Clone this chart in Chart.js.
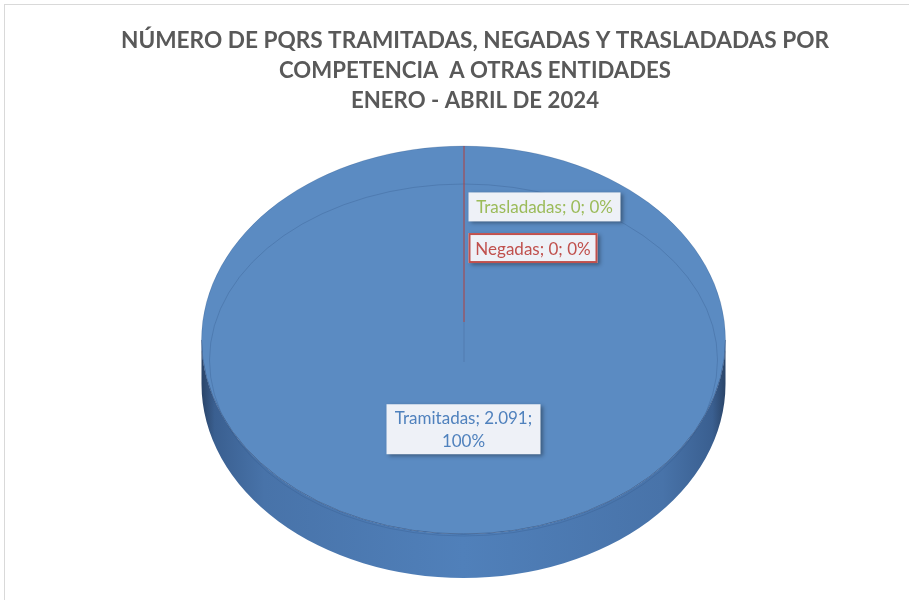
<!DOCTYPE html>
<html>
<head>
<meta charset="utf-8">
<script src="https://cdn.jsdelivr.net/npm/chart.js@4"></script>
<style>
  html, body { margin: 0; padding: 0; background: #ffffff; }
  #wrap { width: 909px; height: 600px; position: relative; }
</style>
</head>
<body>
<div id="wrap"><canvas id="c" width="909" height="600"></canvas></div>
<script>
// ---- data ----
const categories = ['Tramitadas', 'Negadas', 'Trasladadas'];
const values = [2091, 0, 0];
const valueTexts = ['2.091', '0', '0'];
const percentTexts = ['100%', '0%', '0%'];
const titleLines = [
  'NÚMERO DE PQRS TRAMITADAS, NEGADAS Y TRASLADADAS POR',
  'COMPETENCIA  A OTRAS ENTIDADES',
  'ENERO - ABRIL DE 2024'
];
const sliceColors = ['#5b8bc2', '#c0504d', '#9bbb59'];
const labelColors = ['#4f81bd', '#c0504d', '#9bbb59'];

// ---- 3D-look geometry (styling) ----
const X_STRETCH = 262 / 194;   // ellipse horizontal stretch
const DEPTH = 44;              // side thickness

function pieGeom(chart) {
  const el = chart.getDatasetMeta(0).data[0];
  const cx = el.x, cy = el.y, ry = el.outerRadius, rx = ry * X_STRETCH;
  return { cx, cy, rx, ry };
}

const pie3d = {
  id: 'pie3d',
  beforeDatasetsDraw(chart) {
    const ctx = chart.ctx;
    const { cx, cy, rx, ry } = pieGeom(chart);
    // side wall
    ctx.save();
    const g = ctx.createLinearGradient(cx - rx, 0, cx + rx, 0);
    g.addColorStop(0, '#2a4468');
    g.addColorStop(0.025, '#3a5f90');
    g.addColorStop(0.12, '#4873a9');
    g.addColorStop(0.5, '#5080ba');
    g.addColorStop(0.88, '#4873a9');
    g.addColorStop(0.975, '#3a5f90');
    g.addColorStop(1, '#2a4468');
    ctx.beginPath();
    ctx.moveTo(cx + rx, cy);
    ctx.lineTo(cx + rx, cy + DEPTH);
    ctx.ellipse(cx, cy + DEPTH, rx, ry, 0, 0, Math.PI, false);
    ctx.lineTo(cx - rx, cy);
    ctx.ellipse(cx, cy, rx, ry, 0, Math.PI, 0, true);
    ctx.closePath();
    ctx.fillStyle = g;
    ctx.fill();
    ctx.restore();
    // stretch the library's round pie into an ellipse
    ctx.save();
    ctx.translate(cx, cy);
    ctx.scale(X_STRETCH, 1);
    ctx.translate(-cx, -cy);
  },
  afterDatasetsDraw(chart) {
    const ctx = chart.ctx;
    ctx.restore();
    const { cx, cy, rx, ry } = pieGeom(chart);
    ctx.save();
    // top face rim (visible mainly at the front)
    ctx.beginPath();
    ctx.ellipse(cx, cy, rx, ry, 0, 0, Math.PI);
    ctx.strokeStyle = 'rgba(40,70,115,0.55)';
    ctx.lineWidth = 1;
    ctx.stroke();
    ctx.beginPath();
    ctx.ellipse(cx, cy, rx, ry, 0, Math.PI, Math.PI * 2);
    ctx.strokeStyle = 'rgba(40,70,115,0.18)';
    ctx.stroke();
    // faint inner perspective rim
    ctx.beginPath();
    ctx.ellipse(cx, cy + 20, rx - 8, ry - 18, 0, 0, Math.PI * 2);
    ctx.strokeStyle = 'rgba(50,85,135,0.3)';
    ctx.stroke();
    // zero-slice boundary line
    ctx.beginPath();
    ctx.moveTo(cx + 0.5, cy - ry);
    ctx.lineTo(cx + 0.5, cy - 18);
    ctx.strokeStyle = '#b0413e';
    ctx.stroke();
    ctx.beginPath();
    ctx.moveTo(cx + 0.5, cy - 18);
    ctx.lineTo(cx + 0.5, cy + 22);
    ctx.strokeStyle = 'rgba(70,105,155,0.45)';
    ctx.stroke();
    ctx.restore();
  },
  afterDraw(chart) {
    const ctx = chart.ctx;
    const { cx, cy, rx, ry } = pieGeom(chart);
    const meta = chart.getDatasetMeta(0);

    // outer frame
    ctx.save();
    ctx.strokeStyle = '#d9d9d9';
    ctx.lineWidth = 1;
    ctx.strokeRect(4.5, 4.5, 1000, 1000);

    // title
    ctx.fillStyle = '#595959';
    ctx.font = 'bold 23px Lato';
    ctx.textAlign = 'center';
    ctx.textBaseline = 'middle';
    const tx = 475;
    const tys = [41, 71, 101];
    const maxW = [708, 392, 248];
    titleLines.forEach((t, i) => ctx.fillText(t, tx, tys[i], maxW[i]));

    // data labels
    ctx.font = '17px Lato';
    function box(x, y, w, h, border) {
      ctx.save();
      ctx.shadowColor = 'rgba(0,0,0,0.35)';
      ctx.shadowBlur = 4;
      ctx.shadowOffsetX = 2;
      ctx.shadowOffsetY = 2;
      ctx.fillStyle = '#eef1f7';
      ctx.fillRect(x, y, w, h);
      ctx.restore();
      if (border) {
        ctx.save();
        ctx.strokeStyle = border;
        ctx.lineWidth = 2;
        ctx.strokeRect(x + 1, y + 1, w - 2, h - 2);
        ctx.restore();
      }
    }
    meta.data.forEach((el, i) => {
      if (values[i] > 0) {
        const mid = (el.startAngle + el.endAngle) / 2;
        const lx = cx + Math.cos(mid) * rx * 0.46;
        const ly = cy + Math.sin(mid) * ry * 0.46;
        const w = 154, h = 50;
        box(lx - w / 2, ly - h / 2, w, h, null);
        ctx.fillStyle = labelColors[i];
        ctx.textAlign = 'center';
        ctx.fillText(categories[i] + '; ' + valueTexts[i] + ';', lx, ly - 11);
        ctx.fillText(percentTexts[i], lx, ly + 12);
      } else {
        const frac = i === 2 ? 0.686 : 0.474;
        const lx = el.x + 5;
        const ly = cy - ry * frac;
        const text = categories[i] + '; ' + valueTexts[i] + '; ' + percentTexts[i];
        const w = (i === 2) ? 152 : 129;
        const h = (i === 2) ? 29 : 30;
        box(lx, ly - h / 2, w, h, i === 1 ? '#c0504d' : null);
        ctx.fillStyle = labelColors[i];
        ctx.textAlign = 'center';
        ctx.fillText(text, lx + w / 2, ly + 1, w - 8);
      }
    });
    ctx.restore();
  }
};

new Chart(document.getElementById('c'), {
  type: 'pie',
  data: {
    labels: categories,
    datasets: [{
      data: values,
      backgroundColor: sliceColors,
      borderWidth: 0
    }]
  },
  options: {
    responsive: false,
    animation: false,
    layout: { padding: { top: 146, bottom: 66, left: 18, right: 0 } },
    plugins: {
      legend: { display: false },
      tooltip: { enabled: false },
      title: { display: false }
    }
  },
  plugins: [pie3d]
});
</script>
</body>
</html>
